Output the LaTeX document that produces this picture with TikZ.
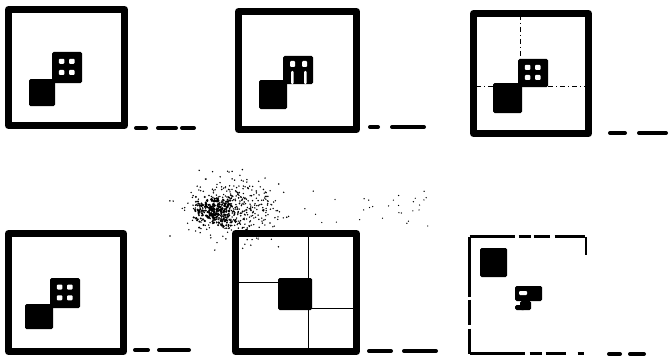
\documentclass[tikz,border=0pt]{standalone}
\usetikzlibrary{calc}
\begin{document}
\begin{tikzpicture}[x=1pt,y=-1pt,
  frame/.style={draw=black,line width=7pt,line join=round},
  thinframe/.style={draw=black,line width=2.6pt},
  blk/.style={fill=black,rounded corners=1.5pt},
  win/.style={fill=white,rounded corners=1pt},
  dsh/.style={draw=black,line width=4pt,line cap=round},
  grid/.style={draw=black,line width=1pt},
  grid dotted/.style={draw=black,line width=0.9pt,dash pattern=on 5pt off 3pt on 1pt off 3pt}]
\useasboundingbox (0,0) rectangle (669,361);
\fill[white] (0,0) rectangle (669,361);
% building macro: #1,#2 top-left, #3 width, #4 height
\newcommand{\bldg}[4]{%
  \fill[blk] (#1,#2) rectangle ++(#3,#4);
  \fill[win] ($(#1,#2)+(0.32*#3,0.3*#4)+(-2.8,-2.5)$) rectangle ++(5.6,5);
  \fill[win] ($(#1,#2)+(0.66*#3,0.3*#4)+(-2.8,-2.5)$) rectangle ++(5.6,5);
  \fill[win] ($(#1,#2)+(0.32*#3,0.66*#4)+(-2.8,-2.5)$) rectangle ++(5.6,5);
  \fill[win] ($(#1,#2)+(0.66*#3,0.66*#4)+(-2.8,-2.5)$) rectangle ++(5.6,5);}
% ---------- frame 1
\draw[frame] (8.5,9.5) rectangle (124.5,125.5);
\bldg{52}{52}{30}{31}
\fill[blk] (29,79) rectangle (55,106);
\draw[dsh] (136,128) -- (146,128);
\draw[dsh] (158,128) -- (176,128);
\draw[dsh] (182,128) -- (194,128);
% ---------- frame 2
\draw[frame] (238.5,11.5) rectangle (356.5,129.5);
\fill[blk] (283,56) rectangle (313,84);
\fill[win] (290,61) rectangle ++(5,6);
\fill[win] (302,61) rectangle ++(5,6);
\fill[win] (291,71) rectangle ++(2.5,13);
\fill[win] (304,71) rectangle ++(2.5,13);
\fill[blk] (259,80) rectangle (287,109);
\draw[dsh] (370,127) -- (378,127);
\draw[dsh] (392,127) -- (424,127);
% ---------- frame 3
\draw[frame] (473.5,13.5) rectangle (588.5,133.5);
\draw[grid dotted] (520,15) -- (520,86);
\draw[grid dotted] (476,86) -- (586,86);
\bldg{518}{59}{30}{28}
\fill[blk] (493,83) rectangle (522,113);
\draw[dsh] (610,133) -- (625,133);
\draw[dsh] (639,133) -- (666,133);
% ---------- frame 4
\draw[frame] (8.5,233.5) rectangle (123.5,351.5);
\bldg{50}{278}{30}{30}
\fill[blk] (25,304) rectangle (53,329);
\draw[dsh] (135,350) -- (148,350);
\draw[dsh] (159,350) -- (189,350);
% ---------- frame 5
\draw[frame] (235.5,233.5) rectangle (356.5,351.5);
\draw[grid] (308,236) -- (308,280);
\draw[grid] (308,308) -- (308,349);
\draw[grid] (238,282) -- (280,282);
\draw[grid] (310,308) -- (354,308);
\fill[blk] (278,278) rectangle (312,310);
\draw[dsh] (369,351) -- (391,351);
\draw[dsh] (404,351) -- (436,351);
% noise blob
\pgfmathsetseed{17}
\foreach \i in {1,...,450}{
  \pgfmathsetmacro{\dx}{(rnd+rnd+rnd-1.5)*44}
  \pgfmathsetmacro{\dy}{(rnd+rnd+rnd-1.5)*30}
  \fill[black] (232+\dx,208+\dy) circle (0.8pt);
}
\foreach \i in {1,...,260}{
  \pgfmathsetmacro{\dx}{(rnd+rnd-1)*22}
  \pgfmathsetmacro{\dy}{(rnd+rnd-1)*16}
  \fill[black] (214+\dx,212+\dy) circle (1.1pt);
}
\foreach \i in {1,...,30}{
  \pgfmathsetmacro{\dx}{rnd*150}
  \pgfmathsetmacro{\dy}{rnd*40}
  \fill[black] (285+\dx,190+\dy) circle (0.7pt);
}
% ---------- frame 6
\draw[thinframe,dash pattern=on 60pt off 3pt on 25pt off 4pt on 40pt off 2pt] (469.5,236.5) -- (469.5,353.5);
\draw[thinframe,dash pattern=on 55pt off 5pt on 12pt off 4pt on 20pt off 12pt on 6pt off 20pt] (469.5,353.5) -- (587,353.5);
\draw[thinframe,dash pattern=on 45pt off 4pt on 12pt off 3pt on 16pt off 5pt on 30pt] (469.5,236.5) -- (587,236.5);
\draw[thinframe,line width=1.2pt] (586,237) -- (586,255);
\fill[blk] (480,248) rectangle (507,277);
\fill[blk] (515,286) rectangle (542,301);
\fill[blk] (520,301) rectangle (531,310);
\fill[blk] (515,305) rectangle (525,310);
\fill[win] (519,291) rectangle ++(8,4);
\draw[dsh] (609,354) -- (620,354);
\draw[dsh] (630,354) -- (644,354);
\end{tikzpicture}
\end{document}
